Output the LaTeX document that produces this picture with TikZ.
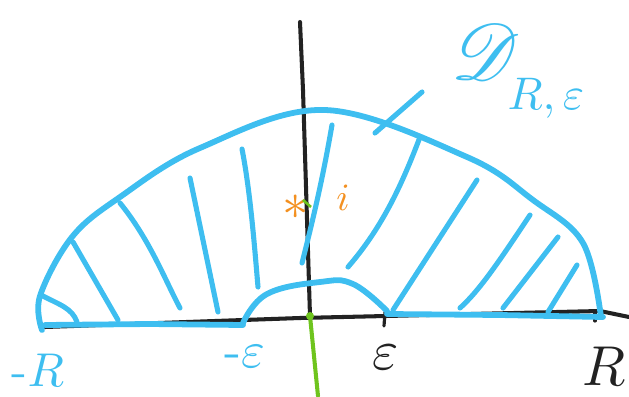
\documentclass[tikz,border=0pt]{standalone}
\usepackage{graphicx}
\usepackage{mathrsfs}
\definecolor{skyb}{RGB}{62,190,240}
\definecolor{inkk}{RGB}{34,34,34}
\definecolor{grn}{RGB}{110,196,30}
\definecolor{orng}{RGB}{243,144,32}
\tikzset{
  bluestroke/.style={draw=skyb,line width=3.3pt,line cap=round,line join=round},
  hatch/.style={draw=skyb,line width=2.9pt,line cap=round},
  axisline/.style={draw=inkk,line width=2.3pt,line cap=round},
  lbl/.style={inner sep=0pt},
}
\newcommand{\bigtxt}[2]{\scalebox{#1}{#2}}
\begin{document}
\begin{tikzpicture}[x=0.02cm,y=-0.02cm]
\useasboundingbox (0,0) rectangle (629,396);
% axes
\draw[axisline] (45,327) -- (300,318) -- (600,311) -- (629,317);
\draw[axisline] (300,22) -- (303,90) -- (310,316);
\draw[draw=grn,line width=2.3pt,line cap=round] (310,316) -- (318,396);
\fill[grn] (310,316) circle (4);
% ticks
\draw[axisline,line width=1.8pt] (385,312) -- (384,326);
\draw[axisline,line width=1.8pt] (595,313) -- (595,321);
% region boundary
\draw[bluestroke] plot[smooth,tension=0.6] coordinates {(42,330) (40,296) (72,237) (120,197) (200,148) (325,110) (467,157) (533,200) (583,243) (601,317)};
\draw[bluestroke] (45,325) -- (150,324) -- (243,325);
\draw[bluestroke] plot[smooth,tension=0.7] coordinates {(243,323) (267,294) (320,282) (353,284) (387,311)};
\draw[bluestroke] (387,314) -- (500,315) -- (603,317);
% hatching left
\draw[hatch] (41,295) .. controls (60,305) and (72,308) .. (77,322);
\draw[hatch] (73,242) -- (118,320);
\draw[hatch] (120,203) .. controls (150,240) and (165,280) .. (180,308);
\draw[hatch] (190,178) -- (218,312);
\draw[hatch] (242,149) .. controls (250,190) and (254,240) .. (258,287);
% middle line
\draw[hatch] (332,125) .. controls (325,165) and (318,200) .. (302,263);
% hatching right
\draw[hatch] (420,137) .. controls (400,190) and (380,230) .. (348,267);
\draw[hatch] (477,180) -- (393,310);
\draw[hatch] (530,215) .. controls (500,260) and (480,290) .. (460,308);
\draw[hatch] (558,237) -- (503,308);
\draw[hatch] (577,265) -- (548,312);
% label
\node[lbl,text=skyb] (dlab) at (486,52) {\bigtxt{4.5}{$\mathscr{D}$}};
\node[lbl,text=skyb] (dsub) at (546,98) {\bigtxt{2.6}{$R,\varepsilon$}};
\coordinate (ptr) at (375,133);
\draw[hatch] (ptr) -- (422,92);
% marks near i
\node[lbl,text=orng] (star) at (296,207) {\bigtxt{3}{$\ast$}};
\draw[draw=grn,line width=1.5pt] (303,200) -- (311,207);
\node[lbl,text=orng] (ilab) at (343,198) {\bigtxt{2.2}{$i$}};
% axis labels
\node[lbl,text=skyb] (mR) at (38,370) {\bigtxt{2.7}{-$R$}};
\node[lbl,text=skyb] (meps) at (245,357) {\bigtxt{2.9}{-$\varepsilon$}};
\node[lbl,text=inkk] (eps) at (386,357) {\bigtxt{3.2}{$\varepsilon$}};
\node[lbl,text=inkk] (R) at (604,366) {\bigtxt{3.2}{$R$}};
\end{tikzpicture}
\end{document}
